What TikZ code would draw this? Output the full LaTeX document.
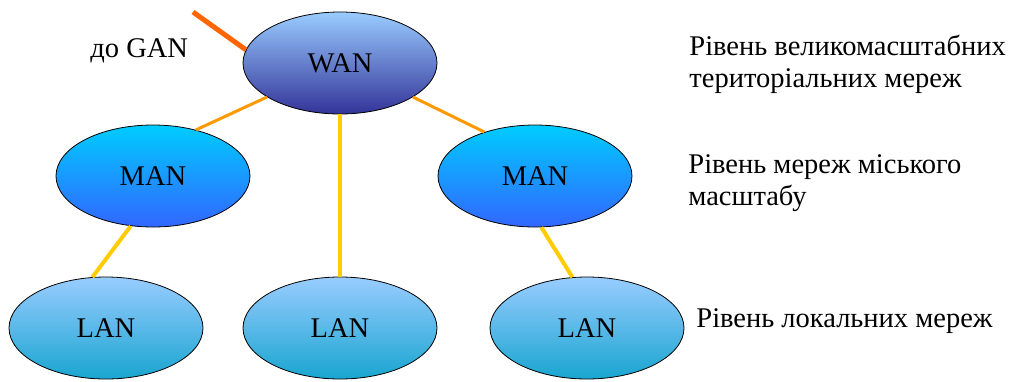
\documentclass[tikz,border=0pt]{standalone}
\usepackage{fontspec}
\setmainfont{Liberation Serif}
\usepackage{tikz}
\usetikzlibrary{shapes, positioning}
\definecolor{wantop}{HTML}{99CCFF}
\definecolor{wanbot}{HTML}{333399}
\definecolor{mantop}{HTML}{00CCFF}
\definecolor{manbot}{HTML}{3366FF}
\definecolor{lantop}{HTML}{99CCFF}
\definecolor{lanbot}{HTML}{19A5D0}
\definecolor{ganline}{HTML}{FF6600}
\definecolor{wanline}{HTML}{FF9900}
\definecolor{lanline}{HTML}{FFCC00}
\newcommand{\lvlfont}{\fontsize{28.5}{32}\selectfont}

\begin{document}
\begin{tikzpicture}[x=1pt, y=-1pt, thick,
                    net/.style = {draw, ellipse, minimum width=194pt,
                        minimum height=102pt, inner sep=0pt, font=\lvlfont},
                    wan/.style = {net, top color=wantop, bottom color=wanbot},
                    man/.style = {net, top color=mantop, bottom color=manbot},
                    lan/.style = {net, top color=lantop, bottom color=lanbot},
                    lvl/.style = {inner sep=0pt, align=left, font=\lvlfont}]
        \useasboundingbox (0,0) rectangle (1015,381);

        \node[wan] (wan) at (340,63) {WAN};
        \node[man] (manl) at (153,176) {MAN};
        \node[man] (manr) at (535,176) {MAN};
        \node[lan] (lanl) at (106,328) {LAN};
        \node[lan] (lanm) at (340,328) {LAN};
        \node[lan] (lanr) at (587,328) {LAN};

        \coordinate (gan) at (193,12);
        \node[lvl, anchor=base west] (gantext) at (90,57) {до GAN};

        \node[lvl, anchor=west] (wanlvl) at (689,64)
            {Рівень великомасштабних\\територіальних мереж};
        \node[lvl, anchor=west] (manlvl) at (688,183)
            {Рівень мереж міського\\масштабу};
        \node[lvl, anchor=base west] (lanlvl) at (696,327)
            {Рівень локальних мереж};

        \draw[ganline, line width=5pt] (gan) -- (wan.172);
        \draw[wanline, line width=3pt] (wan.205) -- (manl.47);
        \draw[wanline, line width=3pt] (wan.335) -- (manr.139);
        \draw[lanline, line width=4pt] (wan.south) -- (lanm.north);
        \draw[lanline, line width=4pt] (manl.246) -- (lanl.105);
        \draw[lanline, line width=4pt] (manr.277) -- (lanr.106);
    \end{tikzpicture}
\end{document}
